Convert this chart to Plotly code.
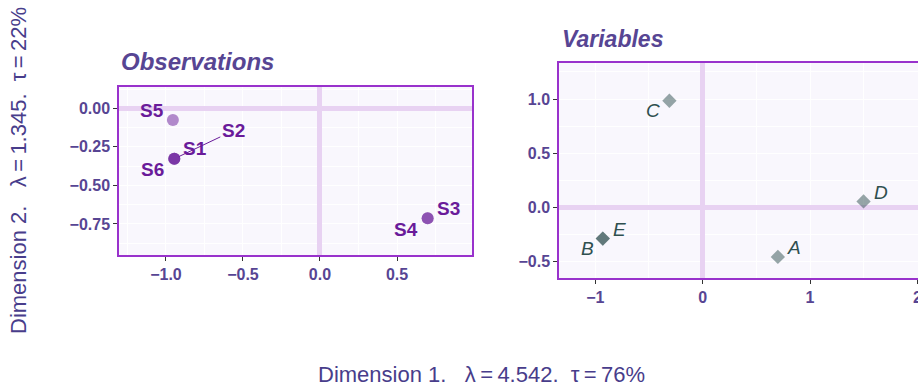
import plotly.graph_objects as go

# ---- data ----
obs_labels = ["S1", "S2", "S3", "S4", "S5", "S6"]
obs_x = [-0.946, -0.946, 0.699, 0.699, -0.955, -0.946]
obs_y = [-0.327, -0.327, -0.713, -0.713, -0.076, -0.327]

var_labels = ["A", "B", "C", "D", "E"]
var_x = [0.70, -0.93, -0.31, 1.498, -0.93]
var_y = [-0.46, -0.29, 0.984, 0.053, -0.29]

x_title = "Dimension 1.\u00a0\u00a0\u00a0λ\u2009=\u20094.542.\u00a0\u00a0τ\u2009=\u200976%"
y_title = "Dimension 2.\u00a0\u00a0\u00a0λ\u2009=\u20091.345.\u00a0\u00a0τ\u2009=\u200922%"

# ---- style ----
FONT = "Liberation Sans, Arial, Helvetica, sans-serif"
TXT = "#574593"
OBS_COL = "#6a1b9a"
VAR_COL = "#2f4f4f"
BG = "#f9f7fd"
ZERO = "#e8d2f2"
BORDER = "#9932cc"

# pixel offsets of labels relative to their points (label placement, style only)
obs_off = {"S1": (21, 10), "S2": None, "S3": (21, 10), "S4": (-22, -11),
           "S5": (-21, 10), "S6": (-22, -11)}
var_off = {"A": (16, 9), "B": (-15, -10), "C": (-16, -10), "D": (17, 9), "E": (17, 9)}

fig = go.Figure()
fig.add_trace(go.Scatter(
    x=obs_x, y=obs_y, mode="markers", xaxis="x", yaxis="y",
    marker=dict(size=12, color=OBS_COL, opacity=0.5, line=dict(width=0)),
    showlegend=False, hoverinfo="text", text=obs_labels))
fig.add_trace(go.Scatter(
    x=var_x, y=var_y, mode="markers", xaxis="x2", yaxis="y2",
    marker=dict(size=11, symbol="diamond", color=VAR_COL, opacity=0.5, line=dict(width=0)),
    showlegend=False, hoverinfo="text", text=var_labels))

ann = []
for lab, x, y in zip(obs_labels, obs_x, obs_y):
    off = obs_off[lab]
    if off is None:
        ann.append(dict(x=x, y=y, xref="x", yref="y", text=f"<b>{lab}</b>",
                        showarrow=True, arrowhead=0, arrowwidth=1, arrowcolor=OBS_COL,
                        ax=59, ay=-28, standoff=5,
                        font=dict(family=FONT, size=19, color=OBS_COL)))
    else:
        ann.append(dict(x=x, y=y, xref="x", yref="y", text=f"<b>{lab}</b>",
                        showarrow=False, xshift=off[0], yshift=off[1],
                        font=dict(family=FONT, size=19, color=OBS_COL)))
for lab, x, y in zip(var_labels, var_x, var_y):
    off = var_off[lab]
    ann.append(dict(x=x, y=y, xref="x2", yref="y2", text=f"<i>{lab}</i>",
                    showarrow=False, xshift=off[0], yshift=off[1],
                    font=dict(family=FONT, size=19, color=VAR_COL)))

ann.append(dict(x=119 / 918, y=1 - 62 / 388, xref="paper", yref="paper",
                text="<b><i>Observations</i></b>", showarrow=False,
                xanchor="left", yanchor="middle",
                font=dict(family=FONT, size=24, color=TXT)))
ann.append(dict(x=560 / 918, y=1 - 39 / 388, xref="paper", yref="paper",
                text="<b><i>Variables</i></b>", showarrow=False,
                xanchor="left", yanchor="middle",
                font=dict(family=FONT, size=23, color=TXT)))
ann.append(dict(x=482 / 918, y=1 - 374 / 388, xref="paper", yref="paper",
                text=x_title, showarrow=False, xanchor="center", yanchor="middle",
                font=dict(family=FONT, size=22, color="#483d8b")))
ann.append(dict(x=18 / 918, y=1 - 171 / 388, xref="paper", yref="paper",
                text=y_title, showarrow=False, xanchor="center", yanchor="middle",
                textangle=-90,
                font=dict(family=FONT, size=22, color="#483d8b")))


def axis(domain, rng, dtick, fmt, anchor, mirror=True, minor=None):
    return dict(
        domain=domain, range=rng, dtick=dtick, tick0=0, tickformat=fmt,
        anchor=anchor, showgrid=True, gridcolor="white", gridwidth=1.2,
        minor=dict(showgrid=True, gridcolor="white", gridwidth=0.6, dtick=minor, tick0=0),
        zeroline=True, zerolinecolor=ZERO, zerolinewidth=5,
        showline=True, linecolor=BORDER, linewidth=1.5, mirror=mirror,
        ticks="outside", ticklen=4, tickwidth=1.2, tickcolor="#333333",
        tickfont=dict(family=FONT, size=16, color=TXT, weight="bold"),
        ticklabeloverflow="allow", automargin=False,
        fixedrange=True,
    )


fig.update_layout(
    width=918, height=388, autosize=False,
    margin=dict(l=0, r=0, t=0, b=0, autoexpand=False),
    paper_bgcolor="white", plot_bgcolor=BG,
    font=dict(family=FONT),
    xaxis=axis([119 / 918, 472 / 918], [-1.305, 0.987], 0.5, ".1f", "y", minor=0.25),
    yaxis=axis([1 - 255 / 388, 1 - 87 / 388], [-0.951, 0.138], 0.25, ".2f", "x", minor=0.125),
    xaxis2=axis([559 / 918, 1.0], [-1.338, 2.005], 1, "d", "y2", minor=0.5),
    yaxis2=axis([1 - 278 / 388, 1 - 63 / 388], [-0.655, 1.333], 0.5, ".1f", "x2",
                mirror=False, minor=0.25),
    annotations=ann,
)

fig.write_html("out.html", config={"displayModeBar": False},
               post_script="document.body.style.margin='0';document.body.style.overflow='hidden';")
